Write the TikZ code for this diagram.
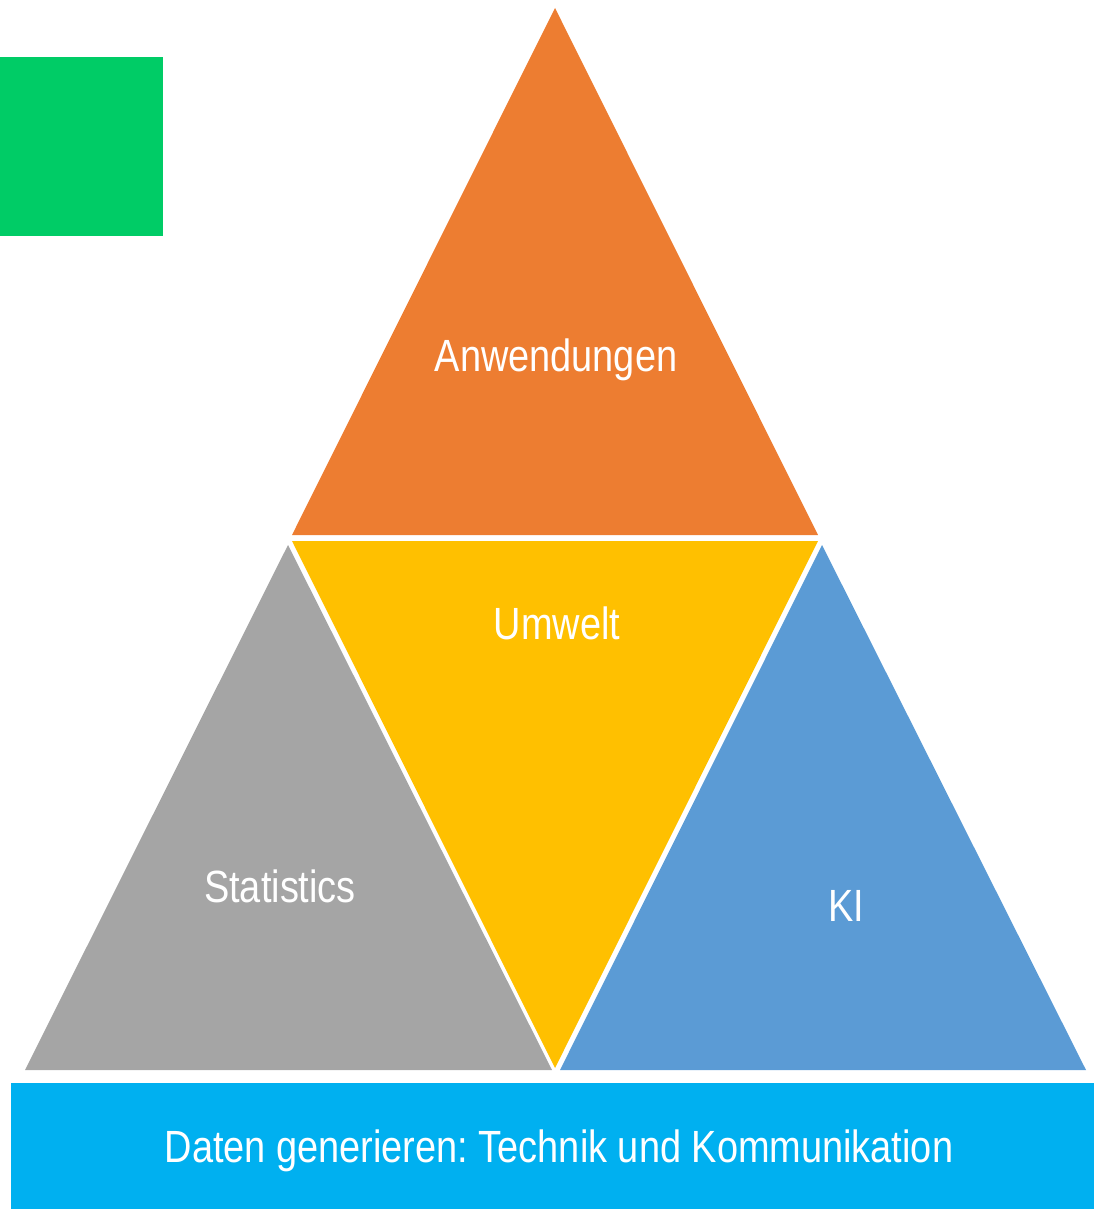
\documentclass[tikz,border=0pt]{standalone}
\usepackage{fontspec}
\setmainfont{Liberation Sans}[FakeStretch=0.84]
\usepackage{tikz}
\usetikzlibrary{calc}
\frenchspacing
\definecolor{kiGreen}{RGB}{0,204,102}
\definecolor{kiOrange}{RGB}{237,125,49}
\definecolor{kiYellow}{RGB}{255,192,0}
\definecolor{kiGray}{RGB}{165,165,165}
\definecolor{kiBlue}{RGB}{91,155,213}
\definecolor{kiCyan}{RGB}{0,176,240}
\tikzset{
  label/.style={text=white,font=\fontsize{25.7}{29}\selectfont,inner sep=0pt},
  part/.style={draw=none}
}
\begin{document}
\begin{tikzpicture}[x=0.02cm,y=-0.02cm]
            \useasboundingbox (0,0) rectangle (1094,1209);
            % corner box
            \fill[kiGreen] (0,57) rectangle (163,236);

            % triangles
            \coordinate (top) at (555,8);
            \coordinate (ml) at (292,535);
            \coordinate (mr) at (818,535);
            \fill[kiOrange] (top) -- (ml) -- (mr) -- cycle;
            \fill[kiYellow] (292,541) -- (818,541) -- (555,1068) -- cycle;
            \fill[kiGray] (288,545) -- (552,1070) -- (25,1070) -- cycle;
            \fill[kiBlue] (822,545) -- (1086,1070) -- (560,1070) -- cycle;

            % base bar
            \fill[kiCyan] (11,1083) rectangle (1094,1209);

            \node[label] (anw) at (556,360) {Anwendungen};
            \node[label] (umw) at (557,623) {Umwelt};
            \node[label] (stat) at (280,886) {Statistics};
            \node[label] (ki) at (846,906) {KI};
            \node[label] (daten) at (559,1151) {Daten generieren: Technik und Kommunikation};
\end{tikzpicture}
\end{document}
